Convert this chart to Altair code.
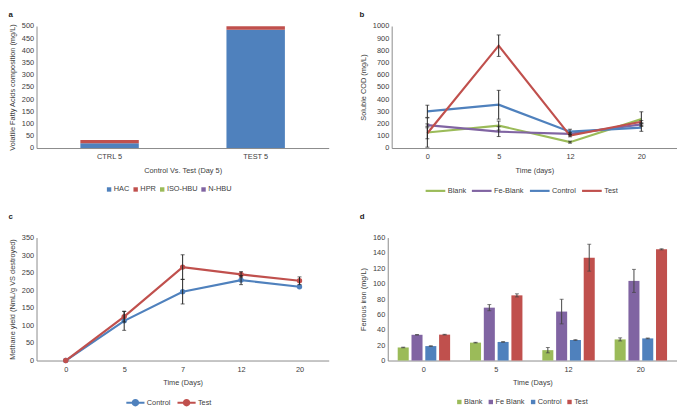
import altair as alt
import pandas as pd

FONT = "Liberation Sans"
BLUE, RED, GREEN, PURPLE = "#4F81BD", "#C0504D", "#9BBB59", "#8064A2"
TXT = "#404040"

# ---------------- Panel a: VFA composition ----------------
vfa_groups = ["CTRL 5", "TEST 5"]
vfa_series = ["HAC", "HPR", "ISO-HBU", "N-HBU"]
vfa_hac = [20, 485]
vfa_hpr = [13, 14]
vfa_iso = [0, 0]
vfa_nhbu = [0, 0]

# ---------------- Panel b: soluble COD ----------------
cod_days = ["0", "5", "12", "20"]
cod_series = ["Blank", "Fe-Blank", "Control", "Test"]
cod_blank = [127, 184, 48, 237]
cod_blank_err = [120, 37, 8, 60]
cod_feblank = [188, 134, 116, 194]
cod_feblank_err = [10, 40, 10, 10]
cod_control = [301, 355, 134, 167]
cod_control_err = [50, 118, 20, 30]
cod_test = [121, 839, 102, 215]
cod_test_err = [45, 88, 10, 10]

# ---------------- Panel c: methane yield ----------------
ch4_days = ["0", "5", "7", "12", "20"]
ch4_series = ["Control", "Test"]
ch4_control = [0, 113, 196, 229, 210]
ch4_control_err = [0, 27, 35, 13, 0]
ch4_test = [0, 125, 266, 245, 227]
ch4_test_err = [0, 15, 35, 8, 11]

# ---------------- Panel d: ferrous iron ----------------
fe_days = ["0", "5", "12", "20"]
fe_series = ["Blank", "Fe Blank", "Control", "Test"]
fe_blank = [17, 23.3, 13.5, 27.5]
fe_blank_err = [0.4, 0.4, 3.5, 2]
fe_feblank = [33.5, 68.8, 63.7, 103.6]
fe_feblank_err = [0.4, 4, 16, 15]
fe_control = [18.8, 24.2, 26.7, 28.8]
fe_control_err = [0.4, 0.4, 0.4, 0.5]
fe_test = [33.7, 84.8, 133.8, 144.7]
fe_test_err = [0.4, 2, 17.5, 0.7]

WA, WB, WC, WD = 297, 290, 297, 294
H1, H2 = 124, 125


def long_df(days, names, vals, errs):
    rows = []
    for n, v, e in zip(names, vals, errs):
        for d, vv, ee in zip(days, v, e):
            rows.append({"day": d, "series": n, "v": vv, "lo": vv - ee, "hi": vv + ee})
    return pd.DataFrame(rows)


def ptitle(t, off=3):
    return alt.Title(t, anchor="start", fontSize=8, fontWeight="bold", font=FONT, color="#222", offset=off)


# ---- a
rows = []
for i, (n, vals) in enumerate(zip(vfa_series, [vfa_hac, vfa_hpr, vfa_iso, vfa_nhbu])):
    for g, v in zip(vfa_groups, vals):
        rows.append({"group": g, "series": n, "v": v, "ord": i})
df_a = pd.DataFrame(rows)

chart_a = alt.Chart(df_a, title=ptitle("a")).mark_bar().encode(
    x=alt.X("group:N", sort=vfa_groups, scale=alt.Scale(paddingInner=0.6, paddingOuter=0.3),
            axis=alt.Axis(title="Control Vs. Test (Day 5)", labelAngle=0)),
    y=alt.Y("v:Q", stack="zero", scale=alt.Scale(domain=[0, 500], nice=False),
            axis=alt.Axis(values=list(range(0, 501, 50)), title="Volatile Fatty Acids composition (mg/L)")),
    color=alt.Color("series:N", scale=alt.Scale(domain=vfa_series, range=[BLUE, RED, GREEN, PURPLE]),
                    legend=alt.Legend(orient="none", legendX=70, legendY=162, direction="horizontal",
                                      title=None, symbolType="square", symbolSize=20, columnPadding=2,
                                      labelOffset=1, symbolStrokeWidth=0)),
    order=alt.Order("ord:Q"),
).properties(width=WA, height=H1)

# ---- b
df_b = long_df(cod_days, cod_series,
               [cod_blank, cod_feblank, cod_control, cod_test],
               [cod_blank_err, cod_feblank_err, cod_control_err, cod_test_err])
xb = alt.X("day:O", sort=cod_days, scale=alt.Scale(type="point", padding=0.5),
           axis=alt.Axis(title="Time (days)", labelAngle=0))
yb_scale = alt.Scale(domain=[0, 1000], nice=False)
yb_axis = alt.Axis(values=list(range(0, 1001, 100)), format="d", title="Soluble COD (mg/L)")
lines_b = alt.Chart(df_b).mark_line(strokeWidth=2.2).encode(
    x=xb,
    y=alt.Y("v:Q", scale=yb_scale, axis=yb_axis),
    color=alt.Color("series:N", scale=alt.Scale(domain=cod_series, range=[GREEN, PURPLE, BLUE, RED]),
                    legend=alt.Legend(orient="none", legendX=33, legendY=156, direction="horizontal",
                                      title=None, symbolType="stroke", symbolSize=400,
                                      symbolStrokeWidth=2.2, columnPadding=1, labelOffset=1)),
)
rule_b = alt.Chart(df_b).mark_rule(color="#222", strokeWidth=1).encode(
    x=xb, y=alt.Y("lo:Q", scale=yb_scale, axis=yb_axis), y2="hi:Q")
cap_b = alt.Chart(df_b).transform_fold(["lo", "hi"], as_=["k", "c"]).mark_tick(
    color="#222", thickness=1, size=4).encode(x=xb, y=alt.Y("c:Q", scale=yb_scale, axis=yb_axis))
chart_b = alt.layer(lines_b, rule_b, cap_b, title=ptitle("b")).properties(width=WB, height=H1)

# ---- c
df_c = long_df(ch4_days, ch4_series, [ch4_control, ch4_test], [ch4_control_err, ch4_test_err])
xc = alt.X("day:O", sort=ch4_days, scale=alt.Scale(type="point", padding=0.5),
           axis=alt.Axis(title="Time (Days)", labelAngle=0))
yc_scale = alt.Scale(domain=[0, 350], nice=False)
yc_axis = alt.Axis(values=list(range(0, 351, 50)), title="Methane yield (NmL/g VS destroyed)")
colc = alt.Color("series:N", scale=alt.Scale(domain=ch4_series, range=[BLUE, RED]),
                 legend=alt.Legend(orient="none", legendX=90, legendY=157, direction="horizontal",
                                   title=None,
                                   symbolType="M-1,0L1,0M-0.3,0A0.3,0.3 0 1,0 0.3,0A0.3,0.3 0 1,0 -0.3,0Z",
                                   symbolSize=340, symbolStrokeWidth=2, columnPadding=2, labelOffset=1))
lines_c = alt.Chart(df_c).mark_line(strokeWidth=2.2).encode(
    x=xc, y=alt.Y("v:Q", scale=yc_scale, axis=yc_axis), color=colc)
pts_c = alt.Chart(df_c).mark_point(filled=True, size=30, opacity=1).encode(
    x=xc, y=alt.Y("v:Q", scale=yc_scale, axis=yc_axis), color=colc)
rule_c = alt.Chart(df_c).transform_filter("datum.hi > datum.lo").mark_rule(color="#222", strokeWidth=1).encode(
    x=xc, y=alt.Y("lo:Q", scale=yc_scale, axis=yc_axis), y2="hi:Q")
cap_c = alt.Chart(df_c).transform_filter("datum.hi > datum.lo").transform_fold(["lo", "hi"], as_=["k", "c"]).mark_tick(
    color="#222", thickness=1, size=4).encode(x=xc, y=alt.Y("c:Q", scale=yc_scale, axis=yc_axis))
chart_c = alt.layer(lines_c, pts_c, rule_c, cap_c, title=ptitle("c", 13)).properties(width=WC, height=H2)

# ---- d
df_d = long_df(fe_days, fe_series, [fe_blank, fe_feblank, fe_control, fe_test],
               [fe_blank_err, fe_feblank_err, fe_control_err, fe_test_err])
xd = alt.X("day:O", sort=fe_days, scale=alt.Scale(paddingInner=0.275, paddingOuter=0.1375),
           axis=alt.Axis(title="Time (Days)", labelAngle=0))
xod = alt.XOffset("series:N", sort=fe_series, scale=alt.Scale(domain=fe_series, paddingInner=0.2))
yd_scale = alt.Scale(domain=[0, 160], nice=False)
yd_axis = alt.Axis(values=list(range(0, 161, 20)), title="Ferrous iron (mg/L)")
bars_d = alt.Chart(df_d).mark_bar().encode(
    x=xd, xOffset=xod,
    y=alt.Y("v:Q", scale=yd_scale, axis=yd_axis),
    color=alt.Color("series:N", scale=alt.Scale(domain=fe_series, range=[GREEN, PURPLE, BLUE, RED]),
                    legend=alt.Legend(orient="none", legendX=69, legendY=163, direction="horizontal",
                                      title=None, symbolType="square", symbolSize=20, columnPadding=4,
                                      labelOffset=1, symbolStrokeWidth=0)),
)
rule_d = alt.Chart(df_d).mark_rule(color="#444", strokeWidth=1).encode(
    x=xd, xOffset=xod, y=alt.Y("lo:Q", scale=yd_scale, axis=yd_axis), y2="hi:Q")
cap_d = alt.Chart(df_d).transform_fold(["lo", "hi"], as_=["k", "c"]).mark_tick(
    color="#444", thickness=1, size=4).encode(x=xd, xOffset=xod, y=alt.Y("c:Q", scale=yd_scale, axis=yd_axis))
chart_d = alt.layer(bars_d, rule_d, cap_d, title=ptitle("d", 13)).properties(width=WD, height=H2)

ind = dict(color="independent", x="independent", y="independent", xOffset="independent")
row1 = alt.hconcat(chart_a, chart_b, spacing=31).resolve_scale(**ind)
row2 = alt.hconcat(chart_c, chart_d, spacing=31).resolve_scale(**ind)

chart = alt.vconcat(row1, row2, spacing=18).resolve_scale(**ind).properties(padding=0).configure_view(
    stroke=None
).configure_axis(
    labelFont=FONT, titleFont=FONT, labelFontSize=7.5, titleFontSize=7.5,
    labelColor=TXT, titleColor=TXT, titleFontWeight="normal", domainColor="#8a8a8a",
    ticks=False, grid=False, labelOverlap=False
).configure_axisX(labelPadding=5, titlePadding=6).configure_axisY(labelPadding=3, titlePadding=5).configure_legend(
    labelFont=FONT, labelFontSize=7.5, labelColor=TXT, padding=0
)

chart.save("out.html", embed_options={"renderer": "svg", "actions": False})
